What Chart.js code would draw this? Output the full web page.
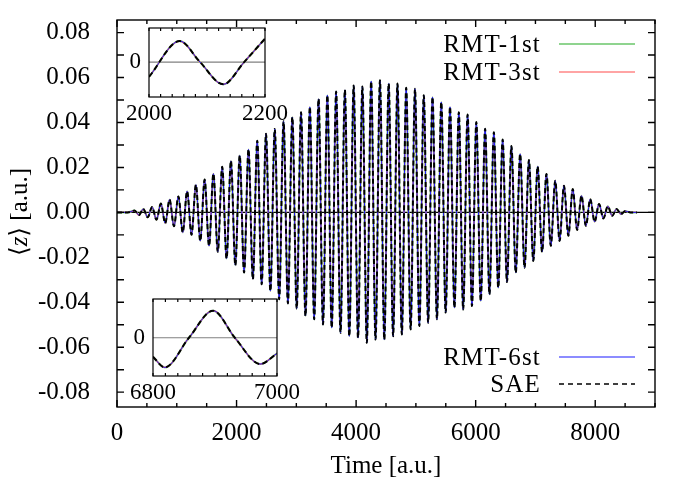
<!DOCTYPE html>
<html>
<head>
<meta charset="utf-8">
<script src="https://cdn.jsdelivr.net/npm/chart.js@4.4.1/dist/chart.umd.min.js"></script>
<style>
  html, body { margin: 0; padding: 0; background: #fff; }
  #wrap { position: relative; width: 690px; height: 490px; }
  canvas { position: absolute; }
</style>
</head>
<body>
<div id="wrap">
  <canvas id="main" width="690" height="490" style="left:0;top:0"></canvas>
  <canvas id="inset1" width="200" height="115" style="left:105px;top:10px"></canvas>
  <canvas id="inset2" width="210" height="120" style="left:105px;top:285px"></canvas>
</div>
<script>
// maxima and minima of <z>(t)
const peakT = [294, 440, 587, 734, 880, 1027, 1173, 1320, 1466, 1613,
  1760, 1906, 2053, 2200, 2346, 2493, 2639, 2786, 2933, 3079,
  3226, 3372, 3519, 3666, 3812, 3959, 4105, 4252, 4399, 4545,
  4692, 4838, 4985, 5132, 5278, 5425, 5571, 5718, 5865, 6011,
  6158, 6304, 6451, 6598, 6744, 6891, 7037, 7184, 7331, 7477,
  7624, 7770, 7917, 8064, 8210, 8357, 8503];
const peakZ = [0.0008, 0.0015, 0.0024, 0.0039, 0.0057, 0.0071, 0.0094, 0.0123, 0.0146, 0.0172,
  0.0203, 0.0229, 0.0253, 0.0280, 0.0319, 0.0350, 0.0371, 0.0405, 0.0424, 0.0446,
  0.0469, 0.0505, 0.0521, 0.0538, 0.0545, 0.0565, 0.0560, 0.0583, 0.0588, 0.0573,
  0.0573, 0.0554, 0.0550, 0.0521, 0.0513, 0.0491, 0.0469, 0.0446, 0.0435, 0.0402,
  0.0372, 0.0357, 0.0324, 0.0295, 0.0260, 0.0233, 0.0204, 0.0171, 0.0141, 0.0119,
  0.0104, 0.0074, 0.0059, 0.0037, 0.0027, 0.0015, 0.0006];
const troughT = [367, 514, 660, 807, 953, 1100, 1247, 1393, 1540, 1686,
  1833, 1980, 2126, 2273, 2420, 2566, 2713, 2859, 3006, 3153,
  3299, 3446, 3592, 3739, 3886, 4032, 4179, 4325, 4472, 4619,
  4765, 4912, 5058, 5205, 5352, 5498, 5645, 5791, 5938, 6085,
  6231, 6378, 6524, 6671, 6818, 6964, 7111, 7257, 7404, 7551,
  7697, 7844, 7990, 8137, 8284, 8430];
const troughZ = [-0.0012, -0.0022, -0.0033, -0.0048, -0.0062, -0.0089, -0.0100, -0.0127, -0.0149, -0.0175,
  -0.0205, -0.0235, -0.0268, -0.0297, -0.0320, -0.0350, -0.0387, -0.0405, -0.0428, -0.0461,
  -0.0476, -0.0499, -0.0513, -0.0536, -0.0551, -0.0558, -0.0580, -0.0566, -0.0566, -0.0551,
  -0.0543, -0.0521, -0.0506, -0.0491, -0.0476, -0.0446, -0.0424, -0.0432, -0.0417, -0.0394,
  -0.0365, -0.0335, -0.0310, -0.0268, -0.0246, -0.0216, -0.0176, -0.0149, -0.0127, -0.0104,
  -0.0078, -0.0060, -0.0042, -0.0027, -0.0015, -0.0008];
// before the pulse and after it the signal is flat
const flatT = [0, 180, 8590, 8700];

// insets (zoomed windows)
const inset1T = [2000, 2053, 2088, 2128, 2164, 2200];
const inset1Z = [-0.0177, 0.0253, 0, -0.0268, 0, 0.0282];
const inset2T = [6800, 6819, 6858, 6897, 6932, 6973, 7000];
const inset2Z = [-0.0164, -0.0256, 0, 0.0233, 0, -0.0227, -0.0135];

const xTicks = [0, 2000, 4000, 6000, 8000];
const yTicks = [-0.08, -0.06, -0.04, -0.02, 0, 0.02, 0.04, 0.06, 0.08];
const inset1Ticks = [2000, 2200];
const inset2Ticks = [6800, 7000];

const seriesNames = ['RMT-1st', 'RMT-3st', 'RMT-6st', 'SAE'];

const FONT = "'Liberation Serif', 'DejaVu Serif', serif";
Chart.defaults.font.family = FONT;
Chart.defaults.font.size = 25;
Chart.defaults.color = '#000';

const styles = {
  'RMT-1st': { color: '#8fd48f', width: 2, dash: [] },
  'RMT-3st': { color: '#ff4a4a', width: 1.2, dash: [] },
  'RMT-6st': { color: '#1a1aff', width: 1, dash: [] },
  'SAE': { color: '#000000', width: 2, dash: [5, 3] }
};

function toPoints(ts, zs) {
  return ts.map((t, i) => ({ x: t, y: zs[i] }));
}

const mainPts = toPoints(peakT, peakZ)
  .concat(toPoints(troughT, troughZ))
  .concat(flatT.map(t => ({ x: t, y: 0 })))
  .sort((a, b) => a.x - b.x);

function makeDatasets(pts, dashScale) {
  return seriesNames.map((name, i) => {
    const s = styles[name];
    return {
      label: name,
      data: pts.map(p => ({ x: p.x, y: p.y })),
      borderColor: s.color,
      borderWidth: s.width,
      borderDash: s.dash.map(d => d * dashScale),
      order: seriesNames.length - i,
      pointRadius: 0,
      fill: false
    };
  });
}

// scale box sizes fixed so the plot frame lands where it should
function fixBox(s, size) {
  if (s.isHorizontal()) s.height = size; else s.width = size;
  s.paddingTop = 0; s.paddingBottom = 0; s.paddingLeft = 0; s.paddingRight = 0;
}

// frame, inward ticks and the zero axis
const frame = {
  id: 'frame',
  beforeDatasetsDraw(chart, args, o) {
    const { ctx, chartArea: a, scales: { y } } = chart;
    const y0 = y.getPixelForValue(0);
    ctx.save();
    ctx.strokeStyle = o.zeroColor;
    ctx.lineWidth = o.zeroWidth;
    ctx.beginPath();
    ctx.moveTo(a.left, y0);
    ctx.lineTo(a.right, y0);
    ctx.stroke();
    ctx.restore();
  },
  afterDraw(chart, args, o) {
    const { ctx, chartArea: a, scales: { x, y } } = chart;
    ctx.save();
    ctx.strokeStyle = '#000';
    ctx.lineWidth = o.width;
    ctx.beginPath();
    if (o.xStep) {
      for (let k = Math.ceil(x.min / o.xStep - 1e-6); k * o.xStep <= x.max + 1e-6; k++) {
        const v = k * o.xStep;
        const px = x.getPixelForValue(v);
        const len = (o.xMajor && Math.abs(v / o.xMajor - Math.round(v / o.xMajor)) < 1e-6) ? o.major : o.minor;
        ctx.moveTo(px, a.bottom); ctx.lineTo(px, a.bottom - len);
        ctx.moveTo(px, a.top); ctx.lineTo(px, a.top + len);
      }
    }
    if (o.yStep) {
      for (let k = Math.ceil(y.min / o.yStep - 1e-6); k * o.yStep <= y.max + 1e-6; k++) {
        const py = y.getPixelForValue(k * o.yStep);
        ctx.moveTo(a.left, py); ctx.lineTo(a.left + o.major, py);
        ctx.moveTo(a.right, py); ctx.lineTo(a.right - o.major, py);
      }
    }
    ctx.stroke();
    ctx.strokeRect(a.left, a.top, a.right - a.left, a.bottom - a.top);
    ctx.restore();
  }
};

// legend in two groups (top right and bottom right) + y title with italic z
const decor = {
  id: 'decor',
  afterDraw(chart) {
    const ctx = chart.ctx;
    const font = "25px " + FONT;
    const rows = { 'RMT-1st': 44, 'RMT-3st': 72, 'RMT-6st': 357, 'SAE': 384 };
    ctx.save();
    ctx.font = font;
    ctx.fillStyle = '#000';
    ctx.textAlign = 'right';
    ctx.textBaseline = 'middle';
    ctx.letterSpacing = '1.2px';
    seriesNames.forEach(name => {
      const s = styles[name];
      const yy = rows[name];
      ctx.fillText(name, 541, yy + 1);
      ctx.strokeStyle = s.color;
      ctx.lineWidth = name === 'RMT-1st' ? 1.8 : (name === 'SAE' ? 1.5 : 1.1);
      ctx.setLineDash(name === 'SAE' ? [5, 4] : []);
      ctx.beginPath();
      ctx.moveTo(559, yy);
      ctx.lineTo(635, yy);
      ctx.stroke();
      ctx.setLineDash([]);
    });
    ctx.letterSpacing = '0px';

    // y axis title, rotated
    const parts = [
      { t: '\u27E8', f: font },
      { t: 'z', f: "italic " + font },
      { t: '\u27E9 [a.u.]', f: font }
    ];
    let total = 0;
    parts.forEach(p => { ctx.font = p.f; p.w = ctx.measureText(p.t).width; total += p.w; });
    ctx.translate(19, 212);
    ctx.rotate(-Math.PI / 2);
    ctx.textAlign = 'left';
    let cx = -total / 2;
    parts.forEach(p => { ctx.font = p.f; ctx.fillText(p.t, cx, 1); cx += p.w; });
    ctx.restore();
  }
};

new Chart(document.getElementById('main'), {
  type: 'line',
  data: { datasets: makeDatasets(mainPts, 1) },
  options: {
    responsive: false,
    animation: false,
    events: [],
    layout: { padding: { left: 0, top: 20, right: 35, bottom: 0 } },
    elements: { line: { cubicInterpolationMode: 'monotone' } },
    plugins: {
      legend: { display: false },
      tooltip: { enabled: false },
      frame: { width: 1.4, xStep: 500, xMajor: 2000, yStep: 0.01, major: 7, minor: 4, zeroColor: '#000', zeroWidth: 1.4 }
    },
    scales: {
      x: {
        type: 'linear', min: 0, max: 9000,
        grid: { display: false, drawTicks: false },
        border: { display: false },
        afterBuildTicks: s => { s.ticks = xTicks.map(v => ({ value: v })); },
        afterFit: s => fixBox(s, 83),
        ticks: { padding: 11, maxRotation: 0, autoSkip: false, callback: v => String(v) },
        title: { display: true, text: 'Time [a.u.]', padding: { top: 9, bottom: 9 } }
      },
      y: {
        type: 'linear', min: -0.0866, max: 0.0856,
        grid: { display: false, drawTicks: false },
        border: { display: false },
        afterBuildTicks: s => { s.ticks = yTicks.map(v => ({ value: v })); },
        afterFit: s => fixBox(s, 117),
        ticks: { padding: 27, autoSkip: false, callback: v => v.toFixed(2) }
      }
    }
  },
  plugins: [frame, decor]
});

function makeInset(id, ts, zs, ticks, ymin, ymax, pad, xHeight, yWidth) {
  new Chart(document.getElementById(id), {
    type: 'line',
    data: { datasets: makeDatasets(toPoints(ts, zs), 1.1) },
    options: {
      responsive: false,
      animation: false,
      events: [],
      layout: { padding: pad },
      elements: { line: { cubicInterpolationMode: 'monotone' } },
      plugins: {
        legend: { display: false },
        tooltip: { enabled: false },
        frame: { width: 1.2, xStep: 20, yStep: 0, major: 3, minor: 3, zeroColor: '#808080', zeroWidth: 1.1 }
      },
      scales: {
        x: {
          type: 'linear', min: ticks[0], max: ticks[ticks.length - 1],
          grid: { display: false, drawTicks: false },
          border: { display: false },
          afterBuildTicks: s => { s.ticks = ticks.map(v => ({ value: v })); },
          afterFit: s => fixBox(s, xHeight),
          ticks: { padding: 3, maxRotation: 0, autoSkip: false, font: { size: 23 }, callback: v => String(v) }
        },
        y: {
          type: 'linear', min: ymin, max: ymax,
          grid: { display: false, drawTicks: false },
          border: { display: false },
          afterBuildTicks: s => { s.ticks = [{ value: 0 }]; },
          afterFit: s => fixBox(s, yWidth),
          ticks: { padding: 8, autoSkip: false, font: { size: 23 }, callback: v => String(v) }
        }
      }
    },
    plugins: [frame]
  });
}

makeInset('inset1', inset1T, inset1Z, inset1Ticks, -0.042, 0.041,
  { left: 0, top: 18, right: 40, bottom: 0 }, 28, 44);
makeInset('inset2', inset2T, inset2Z, inset2Ticks, -0.033, 0.0334,
  { left: 0, top: 14, right: 38, bottom: 0 }, 29, 48);
</script>
</body>
</html>
